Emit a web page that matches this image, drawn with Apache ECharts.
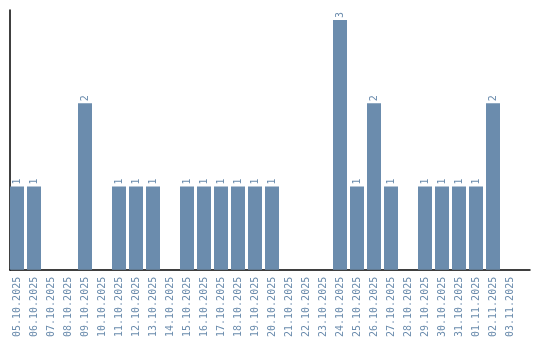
<!DOCTYPE html>
<html>
<head>
<meta charset="utf-8">
<script src="https://cdn.jsdelivr.net/npm/echarts@6/dist/echarts.min.js"></script>
<style>html,body{margin:0;padding:0;background:#fff}#c{width:540px;height:340px}</style>
</head>
<body>
<div id="c"></div>
<script>
const categories = ["05.10.2025","06.10.2025","07.10.2025","08.10.2025","09.10.2025","10.10.2025","11.10.2025","12.10.2025","13.10.2025","14.10.2025","15.10.2025","16.10.2025","17.10.2025","18.10.2025","19.10.2025","20.10.2025","21.10.2025","22.10.2025","23.10.2025","24.10.2025","25.10.2025","26.10.2025","27.10.2025","28.10.2025","29.10.2025","30.10.2025","31.10.2025","01.11.2025","02.11.2025","03.11.2025"];
const counts = [1,1,null,null,2,null,1,1,1,null,1,1,1,1,1,1,null,null,null,3,1,2,1,null,1,1,1,1,2,null];

const barColor = '#6b8cad';
const textColor = '#6b8cad';
const font = 'DejaVu Sans Mono';

const chart = echarts.init(document.getElementById('c'), null, {renderer:'canvas'});
chart.setOption({
  animation:false,
  grid:[
    {left:10, right:10, top:10, bottom:70},
    {left:8.5, width:510, top:20, bottom:70}
  ],
  xAxis:[
    {gridIndex:0, type:'value', min:0, max:1, axisLine:{show:true,lineStyle:{color:'#000',width:1.5}}, axisTick:{show:false}, axisLabel:{show:false}, splitLine:{show:false}},
    {gridIndex:1, type:'category', data:categories, axisLine:{show:false}, axisTick:{show:false},
     axisLabel:{rotate:90, interval:0, margin:7, color:textColor, fontFamily:font, fontSize:10}}
  ],
  yAxis:[
    {gridIndex:0, type:'value', min:0, max:1, axisLine:{show:true,lineStyle:{color:'#000',width:1.5}}, axisTick:{show:false}, axisLabel:{show:false}, splitLine:{show:false}},
    {gridIndex:1, type:'value', min:0, max:3, show:false, splitLine:{show:false}}
  ],
  series:[{
    type:'bar', xAxisIndex:1, yAxisIndex:1, data:counts, barWidth:14,
    itemStyle:{color:barColor},
    label:{show:true, position:'top', rotate:90, align:'left', verticalAlign:'middle', distance:2,
           color:textColor, fontFamily:font, fontSize:10}
  }]
});
</script>
</body>
</html>
